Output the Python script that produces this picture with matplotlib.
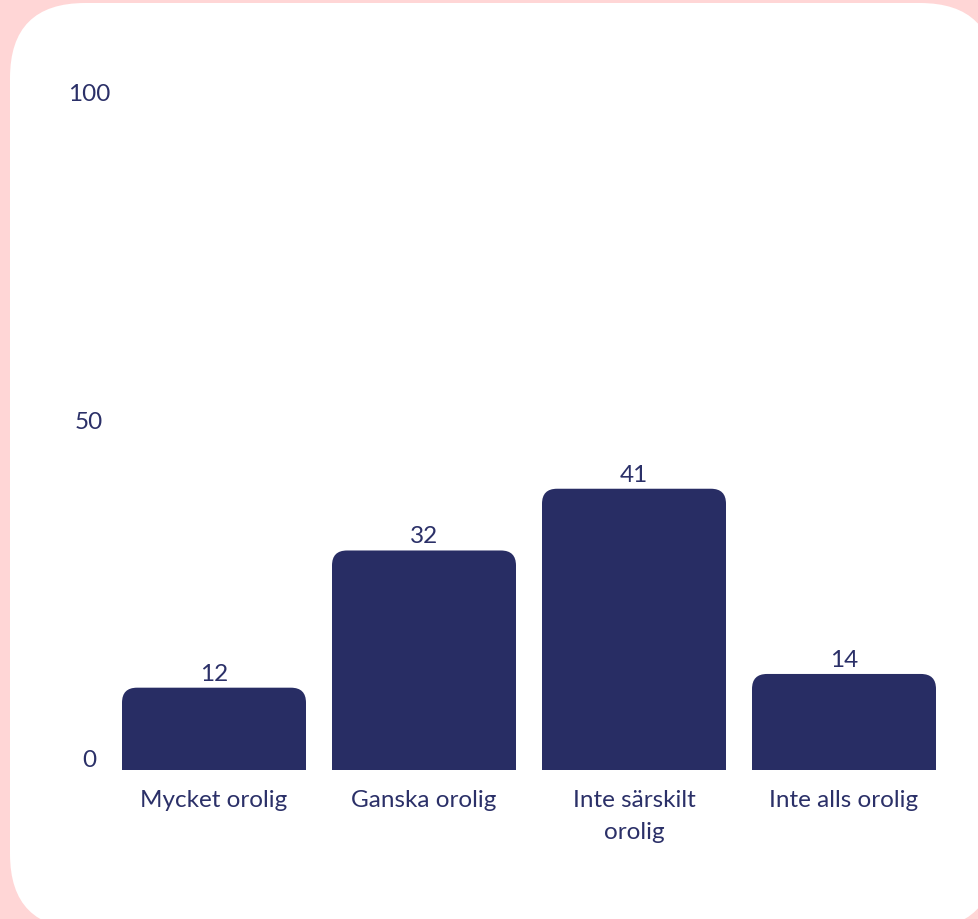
import matplotlib
matplotlib.use("Agg")
import matplotlib.pyplot as plt
from matplotlib.patches import FancyBboxPatch, Rectangle

categories = ["Mycket orolig", "Ganska orolig", "Inte särskilt\norolig", "Inte alls orolig"]
values = [12, 32, 41, 14]
y_ticks = [0, 50, 100]

BAR_COLOR = "#282d64"
TEXT_COLOR = "#2b3068"
PINK = "#ffd6d6"
FS = 17.5

plt.rcParams["font.family"] = ["Lato", "DejaVu Sans"]

W, H = 979, 920
fig = plt.figure(figsize=(W / 100, H / 100), dpi=100)
fig.patch.set_facecolor(PINK)

# white card with rounded corners, running off the right and bottom edges
card = FancyBboxPatch((10, -10), 985, 926, boxstyle="round,pad=0,rounding_size=75",
                      transform=None, facecolor="white", edgecolor="none", zorder=-5)
fig.patches.append(card)

# axes placed in pixels: x from 109 to 949, y=0 at 771 and y=100 at 85
left, right = 109 / W, 949 / W
bottom, top = (H - 771) / H, (H - 85) / H
ax = fig.add_axes([left, bottom, right - left, top - bottom])
ax.set_facecolor("none")
ax.set_xlim(-0.5, len(categories) - 0.5)
ax.set_ylim(0, 100)
for s in ax.spines.values():
    s.set_visible(False)

xs = list(range(len(categories)))
width = 184 / 210
bars = ax.bar(xs, values, width=width, color="none")

# rounded top corners: radius ~15 px, converted to data units
px_x = (right - left) * W / (len(categories))  # pixels per x unit
px_y = (top - bottom) * H / 100                 # pixels per y unit
rx = 15 / px_x
aspect = (15 / px_y) / rx
for b, v in zip(bars, values):
    x0, w = b.get_x(), b.get_width()
    ax.add_patch(FancyBboxPatch((x0, 0), w, v, boxstyle=f"round,pad=0,rounding_size={rx}",
                                mutation_aspect=aspect, facecolor=BAR_COLOR,
                                edgecolor="none"))
    ax.add_patch(Rectangle((x0, 0), w, v / 2, facecolor=BAR_COLOR, edgecolor="none"))
    ax.annotate(str(v), (b.get_x() + w / 2, v), xytext=(0, 3), textcoords="offset points",
                ha="center", va="bottom", fontsize=FS, color=TEXT_COLOR)

ax.set_xticks(xs)
ax.set_xticklabels(categories, fontsize=FS, color=TEXT_COLOR, linespacing=1.65)
ax.tick_params(axis="x", length=0, pad=14)
ax.set_yticks([])

# y labels sit slightly inside the end ticks
offsets = {0: 10, 50: 5, 100: -10}
for t in y_ticks:
    ax.annotate(str(t), (0, t), xycoords=("figure pixels", "data"),
                xytext=(89, offsets[t] * 0.72), textcoords=("figure pixels", "offset points"),
                ha="center", va="center", fontsize=FS, color=TEXT_COLOR)

fig.savefig("out.png", dpi=100, facecolor=fig.get_facecolor())
